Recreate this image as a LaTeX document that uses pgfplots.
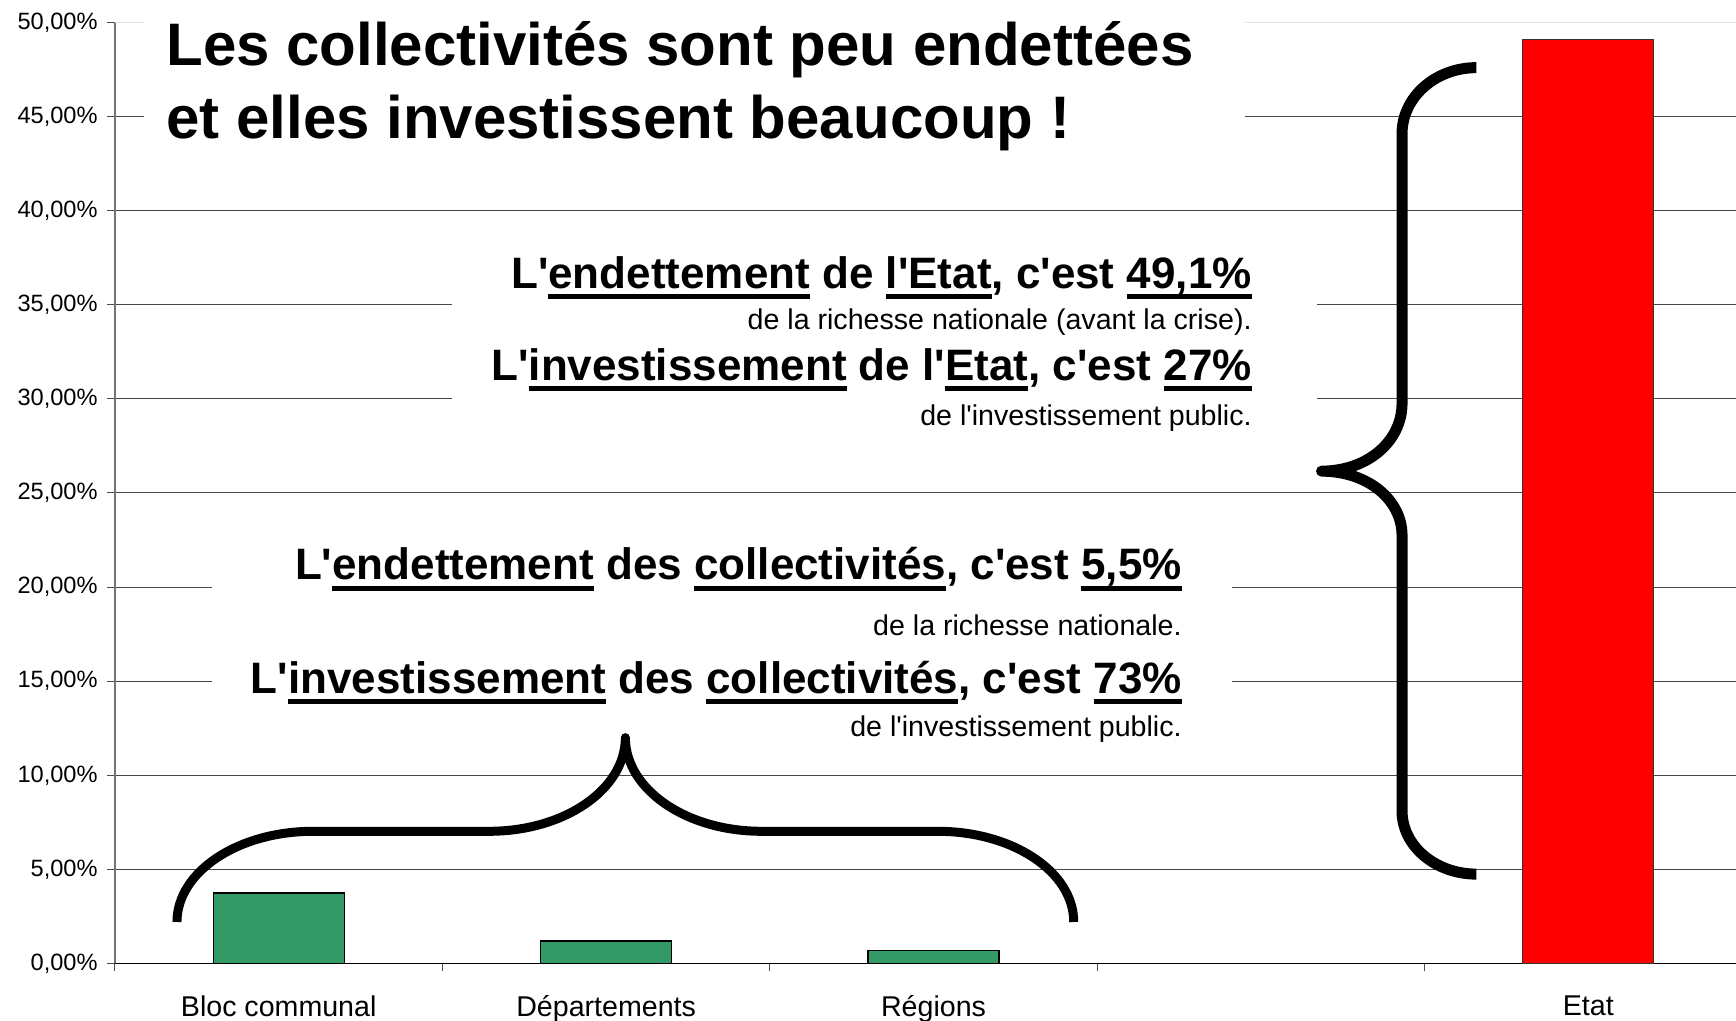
\documentclass[border=0pt]{standalone}
\usepackage{pgfplots}
\pgfplotsset{compat=1.18}
\usepackage{fontspec}
\setmainfont{Liberation Sans}
\definecolor{bargreen}{RGB}{51,153,102}
\newcommand{\ap}{\textquotesingle}
\newcommand{\ul}[1]{\sbox0{#1}\rlap{\rule[-5.5pt]{\wd0}{2.5pt}}\usebox0}
\newcommand{\bigfont}{\bfseries\fontsize{22}{26}\selectfont}
\newcommand{\smallfont}{\fontsize{14.3}{17}\selectfont}
\begin{document}
\begin{tikzpicture}
\begin{axis}[
  scale only axis, width=810.5pt, height=470.5pt,
  xmin=-0.5, xmax=4.451, ymin=0, ymax=50,
  clip=false,
  axis x line*=bottom, axis y line*=left,
  x axis line style={black, line width=0.6pt},
  y axis line style={black!55, line width=0.6pt},
  ytick={0,5,...,50},
  ymajorgrids,
  grid style={black!72, line width=0.5pt},
  yticklabel={\pgfmathprintnumber[fixed,fixed zerofill,precision=2,use comma]{\tick}\%},
  scaled y ticks=false,
  /pgf/number format/assume math mode=true,
  xtick={-0.5,0.5,1.5,2.5,3.5},
  xticklabels={,,,,},
  extra x ticks={0,1,2,3,4},
  extra x tick labels={Bloc communal,Départements,Régions,{},Etat},
  extra x tick style={major tick length=0pt, xmajorgrids=false},
  tick align=outside,
  major tick length=4pt,
  tick style={line width=0.5pt, black!70},
  xticklabel style={font=\fontsize{14.3}{17}\selectfont, anchor=north, inner sep=0pt, yshift=-16pt},
  yticklabel style={font=\fontsize{11.8}{14}\selectfont, anchor=east, inner sep=0pt, xshift=-4.5pt},
]
% faint top gridline
\draw[black!10, line width=0.8pt] (-0.5,50) -- (4.451,50);
% white boxes behind the texts
\fill[white] (-0.41,51) rectangle (2.952,42.5);
\fill[white] (0.528,38.3) rectangle (3.172,27.5);
\fill[white] (-0.2025,23.0) rectangle (2.912,11.3);

% bars
\addplot[ybar, bar width=0.4, bar shift=0pt, fill=bargreen, draw=black, line width=0.6pt]
  coordinates {(0,3.75) (1,1.2) (2,0.7)};
\addplot[ybar, bar width=0.4, bar shift=0pt, fill=red, draw=black!80, line width=0.6pt]
  coordinates {(4,49.1)};

% braces
\draw[line width=5.5pt, line join=round]
  (3.658,47.6) .. controls (3.533,47.6) and (3.431,46.03) .. (3.431,44.09)
  -- (3.431,29.76) .. controls (3.431,27.77) and (3.327,26.16) .. (3.185,26.16)
  .. controls (3.327,26.16) and (3.431,24.63) .. (3.431,22.74)
  -- (3.431,8.10) .. controls (3.431,6.25) and (3.533,4.75) .. (3.658,4.75);
\draw[line width=4.5pt, line join=round]
  (-0.3107,2.206) .. controls (-0.3107,4.871) and (-0.1247,7.024) .. (0.1052,7.024)
  -- (0.6429,7.024) .. controls (0.8728,7.024) and (1.0588,9.253) .. (1.0588,12.0)
  .. controls (1.0588,9.253) and (1.2448,7.024) .. (1.4747,7.024)
  -- (2.0123,7.024) .. controls (2.2422,7.024) and (2.4282,4.871) .. (2.4282,2.206);

% title
\node[anchor=base west, inner sep=0pt, font=\bfseries\fontsize{30}{36}\selectfont]
  at (-0.3442,47.69) {Les collectivités sont peu endettées};
\node[anchor=base west, inner sep=0pt, font=\bfseries\fontsize{30}{36}\selectfont]
  at (-0.3442,43.86) {et elles investissent beaucoup !};

% Etat texts
\node[anchor=base east, inner sep=0pt, font=\bigfont] at (2.9728,35.89)
  {L\ap\ul{endettement} de \ul{l\ap Etat}, c\ap est \ul{49,1\%}};
\node[anchor=base east, inner sep=0pt, font=\smallfont] at (2.9728,33.67)
  {de la richesse nationale (avant la crise).};
\node[anchor=base east, inner sep=0pt, font=\bigfont] at (2.9728,30.98)
  {L\ap\ul{investissement} de l\ap\ul{Etat}, c\ap est \ul{27\%}};
\node[anchor=base east, inner sep=0pt, font=\smallfont] at (2.9728,28.61)
  {de l\ap investissement public.};

% collectivites texts
\node[anchor=base east, inner sep=0pt, font=\bigfont] at (2.759,20.38)
  {L\ap\ul{endettement} des \ul{collectivités}, c\ap est \ul{5,5\%}};
\node[anchor=base east, inner sep=0pt, font=\smallfont] at (2.759,17.44)
  {de la richesse nationale.};
\node[anchor=base east, inner sep=0pt, font=\bigfont] at (2.759,14.37)
  {L\ap\ul{investissement} des \ul{collectivités}, c\ap est \ul{73\%}};
\node[anchor=base east, inner sep=0pt, font=\smallfont] at (2.759,12.07)
  {de l\ap investissement public.};
\end{axis}
\pgfresetboundingbox
\path (-57.5pt,-28.75pt) rectangle (810.5pt,481.75pt);
\end{tikzpicture}
\end{document}
